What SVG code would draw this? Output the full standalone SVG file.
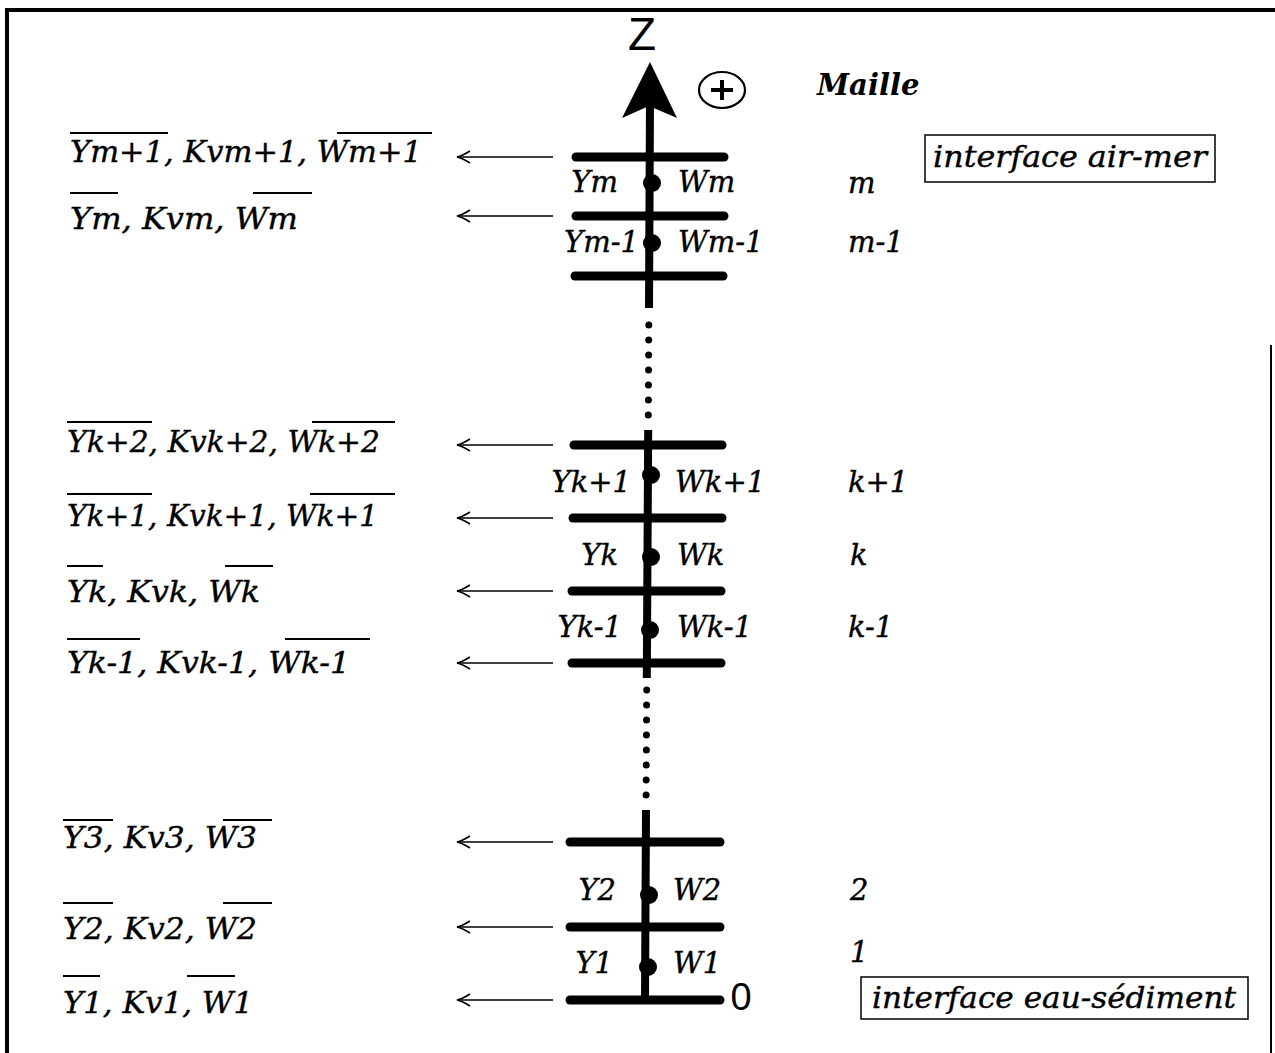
<svg xmlns="http://www.w3.org/2000/svg" width="1275" height="1053" viewBox="0 0 1275 1053">
<defs>
<style>
.t{font-family:"DejaVu Serif","Liberation Serif",serif;font-style:italic;font-size:29px;fill:#000;stroke:#000;stroke-width:0.4}
.tl{font-size:30px}
.tb{font-family:"DejaVu Serif","Liberation Serif",serif;font-style:italic;font-weight:bold;font-size:29px;fill:#000}
.s{font-family:"Liberation Sans",Arial,sans-serif;fill:#000}
.ov{stroke:#000;stroke-width:2}
.bar{stroke:#000;stroke-width:9;stroke-linecap:round}
.ax{stroke:#000;stroke-width:8;fill:none}
.dots{stroke:#000;stroke-width:7;stroke-linecap:round;stroke-dasharray:0 15;fill:none}
.arr{stroke:#000;stroke-width:1.6;fill:none;marker-end:url(#la)}
.box{fill:none;stroke:#000;stroke-width:1.5}
</style>
<marker id="la" viewBox="-15 -8 17 16" refX="0" refY="0" markerWidth="17" markerHeight="16" markerUnits="userSpaceOnUse" orient="auto" overflow="visible">
<path d="M-13,-6 Q-5,-1 0,0 Q-5,1 -13,6" fill="none" stroke="#000" stroke-width="1.6"/>
</marker>
</defs>
<rect width="1275" height="1053" fill="#fff"/>
<g id="frame" stroke="#000" fill="none">
<line x1="5" y1="10" x2="1275" y2="10" stroke-width="4"/>
<line x1="7" y1="8" x2="7" y2="1053" stroke-width="4"/>
<line x1="1271" y1="345" x2="1271" y2="1053" stroke-width="2"/>
</g>
<g id="connectors">
<g id="axis">
<line class="ax" x1="650" y1="100" x2="649" y2="308"/>
<line class="dots" x1="648.8" y1="325" x2="648.3" y2="416"/>
<line class="ax" x1="648.2" y1="430" x2="646.8" y2="678"/>
<line class="dots" x1="646.7" y1="690" x2="646.1" y2="796"/>
<line class="ax" x1="646" y1="810" x2="645" y2="1000"/>
<path d="M650,62 L677,118 L649,106 L622,118 Z" fill="#000"/>
</g>
<g id="bars">
<line class="bar" x1="576" y1="157" x2="724" y2="157"/>
<line class="bar" x1="576" y1="216" x2="724" y2="216"/>
<line class="bar" x1="575" y1="276" x2="723" y2="276"/>
<line class="bar" x1="574" y1="445" x2="722" y2="445"/>
<line class="bar" x1="573" y1="518" x2="722" y2="518"/>
<line class="bar" x1="572" y1="591" x2="721" y2="591"/>
<line class="bar" x1="572" y1="663" x2="721" y2="663"/>
<line class="bar" x1="570" y1="842" x2="720" y2="842"/>
<line class="bar" x1="570" y1="927" x2="720" y2="927"/>
<line class="bar" x1="570" y1="1000" x2="720" y2="1000"/>
</g>
<g id="arrows">
<line class="arr" x1="553" y1="157" x2="457" y2="157"/>
<line class="arr" x1="553" y1="216" x2="457" y2="216"/>
<line class="arr" x1="553" y1="445" x2="457" y2="445"/>
<line class="arr" x1="553" y1="518" x2="457" y2="518"/>
<line class="arr" x1="553" y1="591" x2="457" y2="591"/>
<line class="arr" x1="553" y1="663" x2="457" y2="663"/>
<line class="arr" x1="553" y1="842" x2="457" y2="842"/>
<line class="arr" x1="553" y1="927" x2="457" y2="927"/>
<line class="arr" x1="553" y1="1000" x2="457" y2="1000"/>
</g>
</g>
<g id="axis-labels">
<text class="s" x="642" y="50" font-size="46" text-anchor="middle">Z</text>
<text class="s" x="741" y="1010" font-size="38" text-anchor="middle">0</text>
<g id="plus">
<ellipse cx="722" cy="90" rx="23" ry="18" fill="none" stroke="#000" stroke-width="2.2"/>
<line x1="711" y1="90" x2="733" y2="90" stroke="#000" stroke-width="4"/>
<line x1="722" y1="80" x2="722" y2="100" stroke="#000" stroke-width="4"/>
</g>
<text class="tb" x="817" y="95">Maille</text>
</g>
<g id="cell-m">
<circle cx="652" cy="183" r="9"/>
<text class="t" x="618" y="192" text-anchor="end">Ym</text>
<text class="t" x="678" y="192">Wm</text>
<text class="t" x="848" y="193">m</text>
</g>
<g id="cell-m-1">
<circle cx="652" cy="243" r="9"/>
<text class="t" x="639" y="252" text-anchor="end">Ym-1</text>
<text class="t" x="678" y="252">Wm-1</text>
<text class="t" x="848" y="252">m-1</text>
</g>
<g id="cell-k+1">
<circle cx="651" cy="475" r="9"/>
<text class="t" x="631" y="492" text-anchor="end">Yk+1</text>
<text class="t" x="675" y="492">Wk+1</text>
<text class="t" x="848" y="492">k+1</text>
</g>
<g id="cell-k">
<circle cx="651" cy="557" r="9"/>
<text class="t" x="618" y="565" text-anchor="end">Yk</text>
<text class="t" x="677" y="565">Wk</text>
<text class="t" x="850" y="565">k</text>
</g>
<g id="cell-k-1">
<circle cx="650" cy="630" r="9"/>
<text class="t" x="622" y="637" text-anchor="end">Yk-1</text>
<text class="t" x="677" y="637">Wk-1</text>
<text class="t" x="848" y="637">k-1</text>
</g>
<g id="cell-2">
<circle cx="649" cy="895" r="9"/>
<text class="t" x="616" y="900" text-anchor="end">Y2</text>
<text class="t" x="673" y="900">W2</text>
<text class="t" x="850" y="900">2</text>
</g>
<g id="cell-1">
<circle cx="648" cy="967" r="9"/>
<text class="t" x="613" y="973" text-anchor="end">Y1</text>
<text class="t" x="673" y="973">W1</text>
<text class="t" x="850" y="962">1</text>
</g>
<g id="interface-air-mer">
<rect class="box" x="925" y="135" width="290" height="47"/>
<text class="t tl" x="933" y="167" textLength="274" lengthAdjust="spacingAndGlyphs">interface air-mer</text>
</g>
<g id="interface-eau-sediment">
<rect class="box" x="861" y="977" width="387" height="42"/>
<text class="t tl" x="872" y="1008" textLength="364" lengthAdjust="spacingAndGlyphs">interface eau-sédiment</text>
</g>
<g id="flux-m+1">
<text class="t tl" x="70" y="162" textLength="352" lengthAdjust="spacingAndGlyphs">Ym+1, Kvm+1, Wm+1</text>
<line class="ov" x1="70" y1="133" x2="168" y2="133"/>
<line class="ov" x1="337" y1="133" x2="432" y2="133"/>
</g>
<g id="flux-m">
<text class="t tl" x="70" y="229" textLength="228" lengthAdjust="spacingAndGlyphs">Ym, Kvm, Wm</text>
<line class="ov" x1="70" y1="193" x2="118" y2="193"/>
<line class="ov" x1="253" y1="193" x2="312" y2="193"/>
</g>
<g id="flux-k+2">
<text class="t tl" x="67" y="452" textLength="313" lengthAdjust="spacingAndGlyphs">Yk+2, Kvk+2, Wk+2</text>
<line class="ov" x1="67" y1="422" x2="152" y2="422"/>
<line class="ov" x1="312" y1="422" x2="395" y2="422"/>
</g>
<g id="flux-k+1">
<text class="t tl" x="67" y="526" textLength="311" lengthAdjust="spacingAndGlyphs">Yk+1, Kvk+1, Wk+1</text>
<line class="ov" x1="67" y1="494" x2="152" y2="494"/>
<line class="ov" x1="310" y1="494" x2="395" y2="494"/>
</g>
<g id="flux-k">
<text class="t tl" x="67" y="602" textLength="193" lengthAdjust="spacingAndGlyphs">Yk, Kvk, Wk</text>
<line class="ov" x1="67" y1="566" x2="103" y2="566"/>
<line class="ov" x1="225" y1="566" x2="273" y2="566"/>
</g>
<g id="flux-k-1">
<text class="t tl" x="67" y="673" textLength="283" lengthAdjust="spacingAndGlyphs">Yk-1, Kvk-1, Wk-1</text>
<line class="ov" x1="67" y1="639" x2="140" y2="639"/>
<line class="ov" x1="285" y1="639" x2="370" y2="639"/>
</g>
<g id="flux-3">
<text class="t tl" x="63" y="848" textLength="194" lengthAdjust="spacingAndGlyphs">Y3, Kv3, W3</text>
<line class="ov" x1="63" y1="820" x2="113" y2="820"/>
<line class="ov" x1="223" y1="820" x2="272" y2="820"/>
</g>
<g id="flux-2">
<text class="t tl" x="63" y="939" textLength="194" lengthAdjust="spacingAndGlyphs">Y2, Kv2, W2</text>
<line class="ov" x1="63" y1="903" x2="113" y2="903"/>
<line class="ov" x1="223" y1="903" x2="272" y2="903"/>
</g>
<g id="flux-1">
<text class="t tl" x="63" y="1013" textLength="190" lengthAdjust="spacingAndGlyphs">Y1, Kv1, W1</text>
<line class="ov" x1="63" y1="976" x2="100" y2="976"/>
<line class="ov" x1="187" y1="976" x2="235" y2="976"/>
</g>
</svg>
